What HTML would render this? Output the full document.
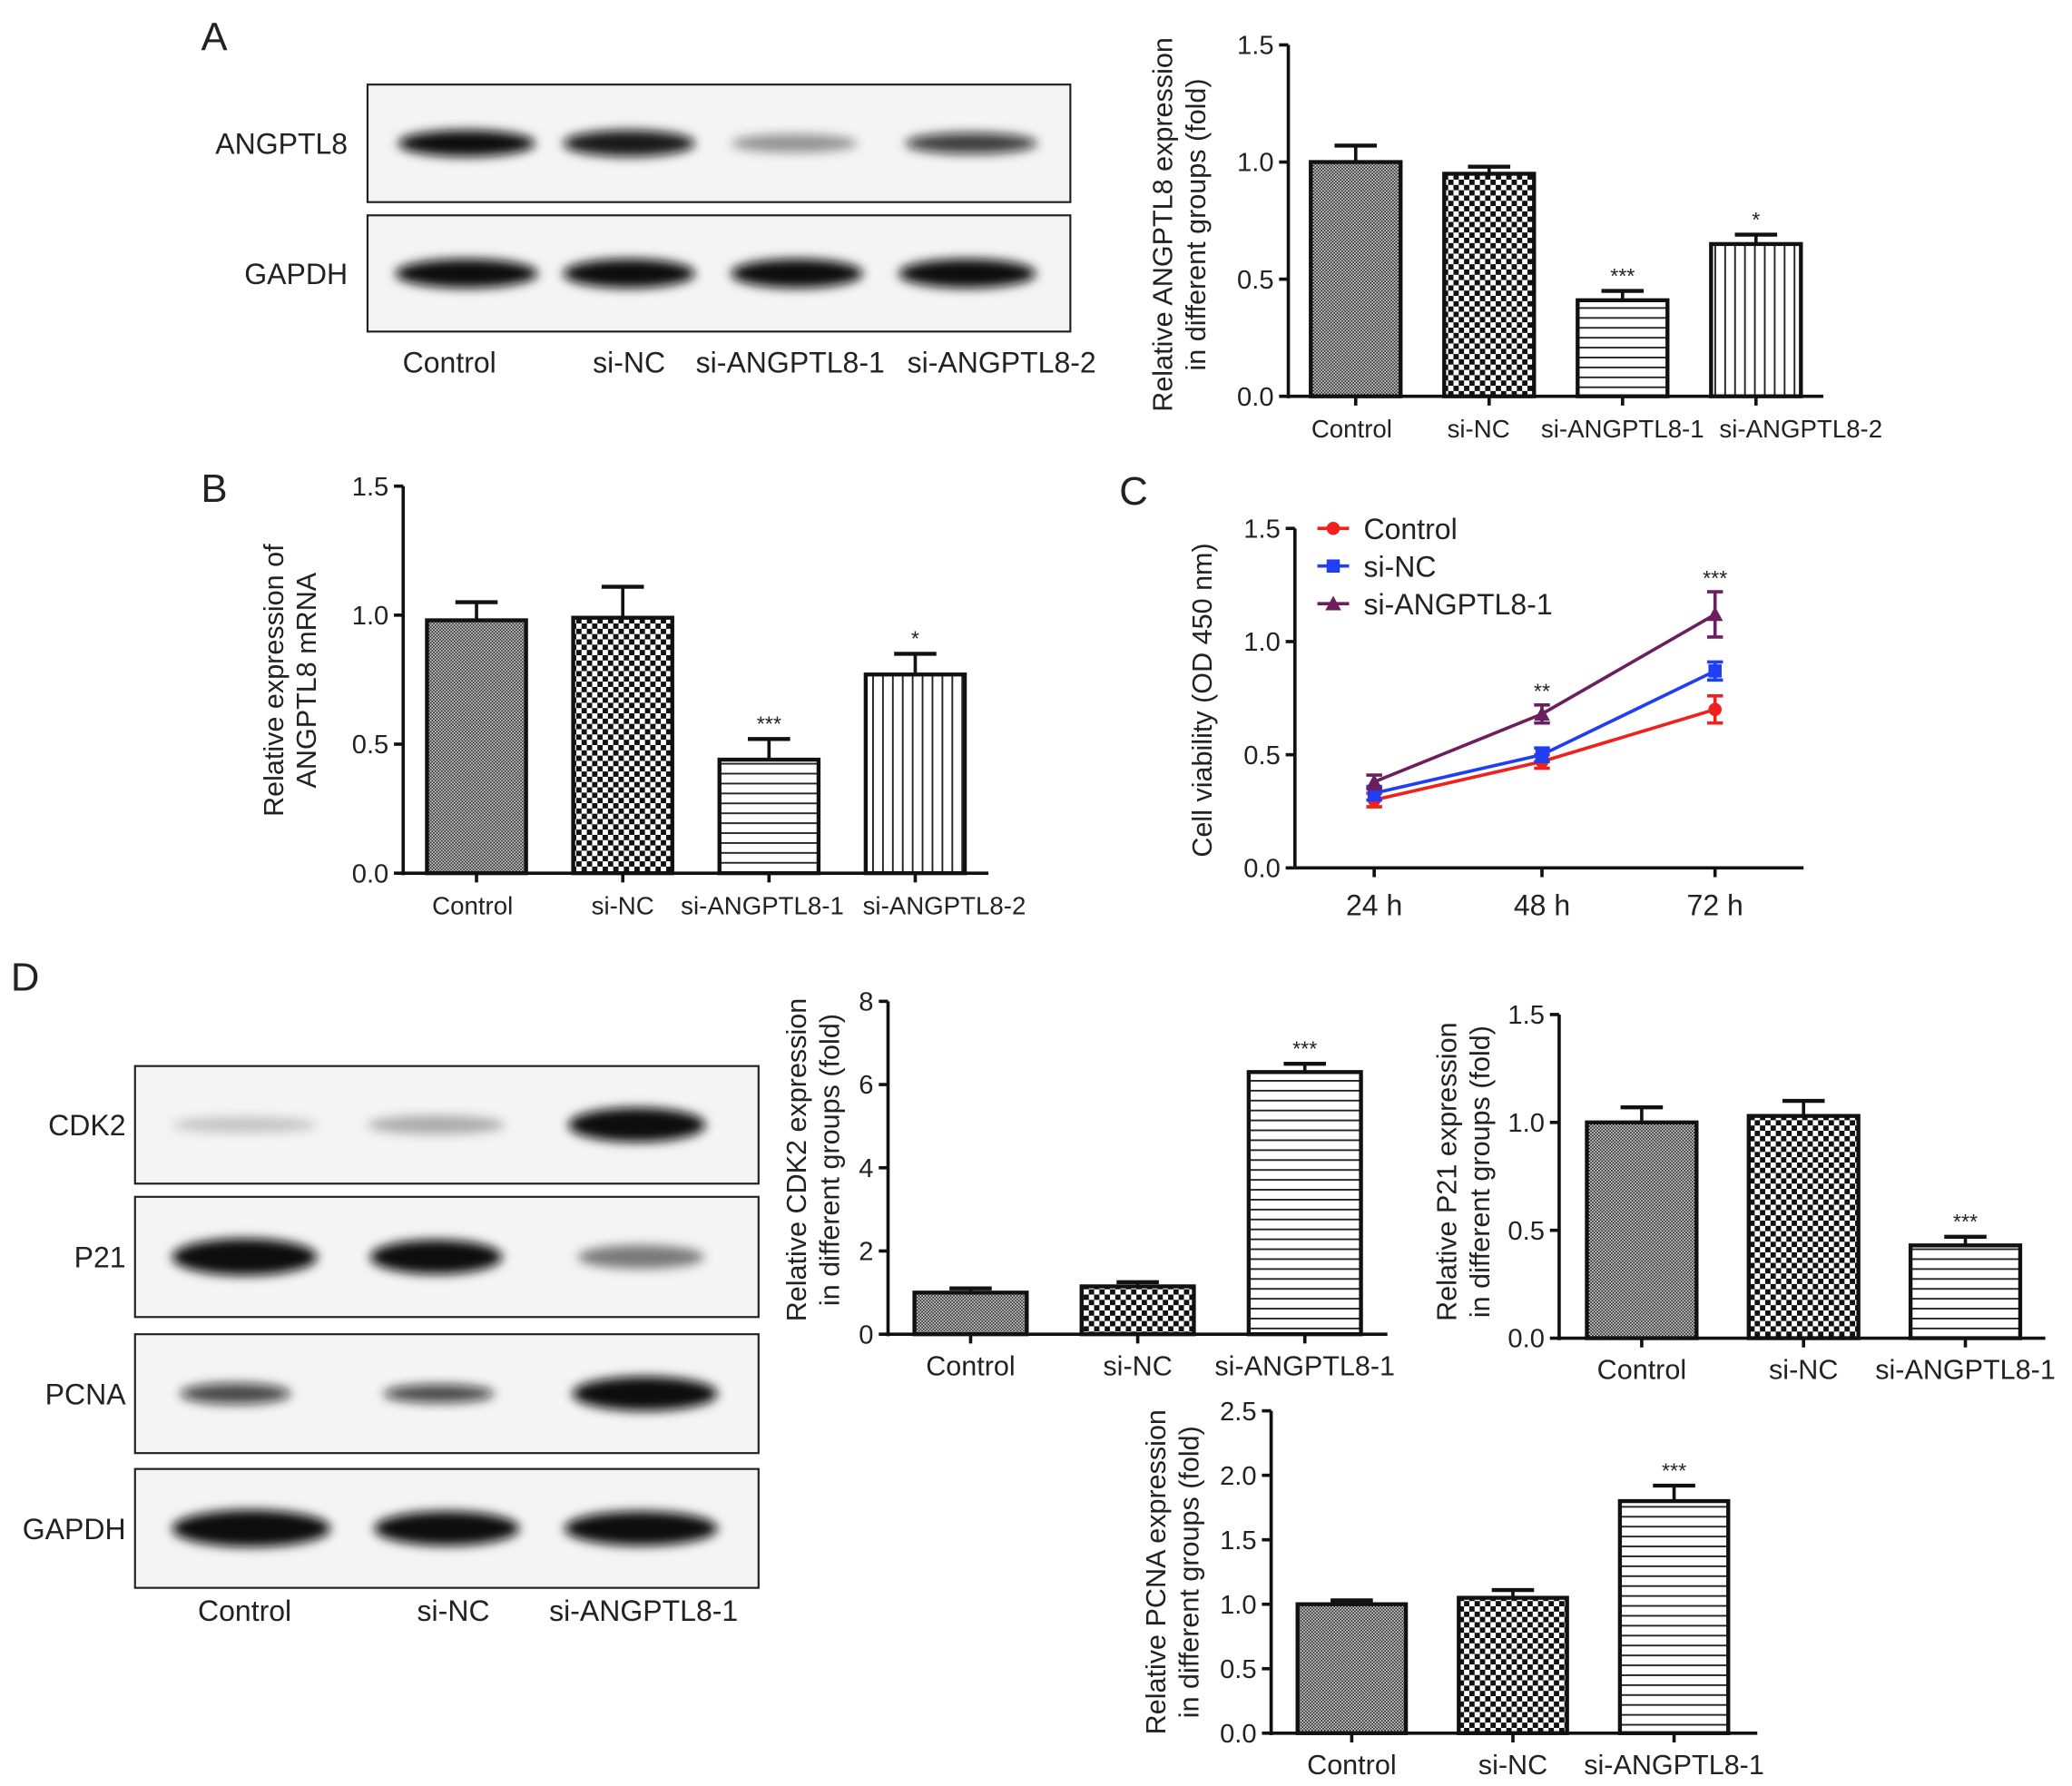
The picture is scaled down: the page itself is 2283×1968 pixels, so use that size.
<!DOCTYPE html>
<html><head><meta charset="utf-8"><style>
html,body{margin:0;padding:0;background:#fff}
svg{display:block}
text{font-family:"Liberation Sans",Arial,sans-serif;fill:#222}
</style></head><body>
<svg id="fig" width="2283" height="1968" viewBox="0 0 1568 1352" xmlns="http://www.w3.org/2000/svg">
<defs>
<pattern id="pCtrl" width="2.4" height="2.4" patternUnits="userSpaceOnUse"><rect width="2.4" height="2.4" fill="#ddd"/><rect width="1.2" height="1.2" fill="#222"/><rect x="1.2" y="1.2" width="1.2" height="1.2" fill="#222"/></pattern>
<pattern id="pNC" width="8" height="8" patternUnits="userSpaceOnUse"><rect width="8" height="8" fill="#fff"/><rect width="4" height="4" fill="#111"/><rect x="4" y="4" width="4" height="4" fill="#111"/></pattern>
<pattern id="pH" width="8" height="7.5" patternUnits="userSpaceOnUse"><rect width="8" height="7.5" fill="#fff"/><rect y="0" width="8" height="1.3" fill="#222"/></pattern>
<pattern id="pV" width="7.5" height="8" patternUnits="userSpaceOnUse"><rect width="7.5" height="8" fill="#fff"/><rect x="0" width="1.3" height="8" fill="#222"/></pattern>
<filter id="blur" x="-20%" y="-50%" width="140%" height="200%"><feGaussianBlur stdDeviation="4"/></filter>
</defs>
<g id="root"></g>
</svg>
<script>
// ---------- data ----------
const groupsA = ["Control","si-NC","si-ANGPTL8-1","si-ANGPTL8-2"];
const valuesA = [1.0,0.95,0.41,0.65];
const errorsA = [0.07,0.03,0.04,0.04];
const starsA = ["","","***","*"];
const valuesB = [0.98,0.99,0.44,0.77];
const errorsB = [0.07,0.12,0.08,0.08];
const starsB = ["","","***","*"];
const ticks15 = [0,0.5,1.0,1.5];
const timesC = ["24 h","48 h","72 h"];
const ctrlC = [0.30,0.47,0.70];
const ctrlErrC = [0.03,0.03,0.06];
const ncC = [0.33,0.50,0.87];
const ncErrC = [0.03,0.03,0.04];
const siC = [0.38,0.68,1.12];
const siErrC = [0.03,0.04,0.10];
const starsC = ["","**","***"];
const groupsD = ["Control","si-NC","si-ANGPTL8-1"];
const valuesCDK2 = [1.0,1.15,6.3];
const errorsCDK2 = [0.1,0.1,0.2];
const ticksCDK2 = [0,2,4,6,8];
const valuesP21 = [1.0,1.03,0.43];
const errorsP21 = [0.07,0.07,0.04];
const valuesPCNA = [1.0,1.05,1.8];
const errorsPCNA = [0.03,0.06,0.12];
const ticksPCNA = [0,0.5,1.0,1.5,2.0,2.5];
const starsD = ["","","***"];
const fillsAll = ["url(#pCtrl)","url(#pNC)","url(#pH)","url(#pV)"];

const NS="http://www.w3.org/2000/svg";
const root=document.getElementById('root');
function mk(tag,attrs,parent,txt){const e=document.createElementNS(NS,tag);for(const k in attrs)e.setAttribute(k,attrs[k]);if(txt!==undefined)e.textContent=txt;(parent||root).appendChild(e);return e;}
function fmt(v,dec){return v.toFixed(dec);}

function barChart(o){
  const g=mk('g',{});
  
  
  const y=v=>o.y0-(v/o.max)*(o.y0-o.yTop);
  mk('line',{x1:o.ax,y1:o.yTop,x2:o.ax,y2:o.y0+1.5,stroke:'#111','stroke-width':2.5},g);
  mk('line',{x1:o.ax,y1:o.y0,x2:o.axEnd,y2:o.y0,stroke:'#111','stroke-width':2.5},g);
  o.ticks.forEach(t=>{
    mk('line',{x1:o.ax-7,y1:y(t),x2:o.ax,y2:y(t),stroke:'#111','stroke-width':2.5},g);
    const tl=mk('text',{x:o.ax-11,y:y(t)+7,'text-anchor':'end','font-size':20},g,fmt(t,o.dec));
    
    
  });
  o.values.forEach((v,i)=>{
    const x0=o.x0+i*o.step, cx=x0+o.bw/2;
    const b=mk('rect',{x:x0,y:y(v),width:o.bw,height:o.y0-y(v),fill:fillsAll[i],stroke:'#111','stroke-width':3},g);
    
    
    const ye=y(v+o.errors[i]);
    mk('line',{x1:cx,y1:y(v),x2:cx,y2:ye,stroke:'#111','stroke-width':2.5},g);
    mk('line',{x1:cx-16,y1:ye,x2:cx+16,y2:ye,stroke:'#111','stroke-width':3},g);
    mk('line',{x1:cx,y1:o.y0,x2:cx,y2:o.y0+7,stroke:'#111','stroke-width':2.5},g);
    if(o.stars[i]){const s=mk('text',{x:cx,y:ye-6,'text-anchor':'middle','font-size':16},g,o.stars[i]);
      }
    const l=mk('text',{x:cx+(o.lblOff?o.lblOff[i]:0),y:o.y0+31,'text-anchor':'middle','font-size':o.lfs||21},g,o.groups[i]);
    
    
  });
  const t=mk('text',{transform:`translate(${o.tx},${o.ty}) rotate(-90)`,'text-anchor':'middle','font-size':21},g);
  
  
  o.title.forEach((s,i)=>mk('tspan',{x:0,dy:i===0?0:25},t,s));
}

function panelLabel(txt,x,y){const e=mk('text',{x:x,y:y,'font-size':30},root,txt);
  }

function blot(name,x,y,w,h,bands,label,lx){
  const g=mk('g',{});
  
  
  mk('rect',{x:x,y:y,width:w,height:h,fill:'#f4f4f4',stroke:'#222','stroke-width':1.5},g);
  bands.forEach(b=>mk('ellipse',{cx:b[0],cy:y+h/2,rx:b[1],ry:b[2],fill:`rgba(10,10,10,${b[3]})`,filter:'url(#blur)'},g));
  const t=mk('text',{x:lx,y:y+h/2+8,'text-anchor':'end','font-size':22},g,label);
  
}

// Panel A
panelLabel('A',152,38);
blot('blot-angptl8',278,64,532,89,[[353,52,10,1],[476,50,10,0.95],[601,48,7,0.4],[735,50,8,0.8]],'ANGPTL8',263);
blot('blot-gapdh-a',278,163,532,88,[[353,54,11,1],[476,50,11,1],[603,50,11,1],[732,52,11,1]],'GAPDH',263);
[340,476,598,758].forEach((x,i)=>{const t=mk('text',{x:x,y:282,'text-anchor':'middle','font-size':22},root,groupsA[i]);
  });
barChart({name:'chart-a',groups:groupsA,values:valuesA,errors:errorsA,stars:starsA,ticks:ticks15,dec:1,max:1.5,
  ax:975,axEnd:1380,y0:300,yTop:34,x0:992,step:101,bw:68,tx:887,ty:170,lfs:19,lblOff:[-3,-8,0,34],
  title:['Relative ANGPTL8 expression','in different groups (fold)']});

// Panel B
panelLabel('B',152,380);
barChart({name:'chart-b',groups:groupsA,values:valuesB,errors:errorsB,stars:starsB,ticks:ticks15,dec:1,max:1.5,
  ax:305,axEnd:748,y0:661,yTop:368,x0:323,step:110.7,bw:75,tx:214,ty:515,lfs:19,lblOff:[-3,0,-5,22],
  title:['Relative expression of','ANGPTL8 mRNA']});

// Panel C
panelLabel('C',847,382);
(function(){
  const g=mk('g',{});
  
  
  const ax=980,y0=657,yTop=400,xs=[1040,1167,1298];
  const y=v=>y0-(v/1.5)*(y0-yTop);
  mk('line',{x1:ax,y1:yTop,x2:ax,y2:y0,stroke:'#111','stroke-width':2.5},g);
  mk('line',{x1:ax,y1:y0,x2:1365,y2:y0,stroke:'#111','stroke-width':2.5},g);
  ticks15.forEach(t=>{mk('line',{x1:ax-7,y1:y(t),x2:ax,y2:y(t),stroke:'#111','stroke-width':2.5},g);
    const tl=mk('text',{x:ax-11,y:y(t)+7,'text-anchor':'end','font-size':20},g,fmt(t,1));
    });
  timesC.forEach((s,i)=>{mk('line',{x1:xs[i],y1:y0,x2:xs[i],y2:y0+7,stroke:'#111','stroke-width':2.5},g);
    const tl=mk('text',{x:xs[i],y:y0+36,'text-anchor':'middle','font-size':22},g,s);
    });
  const series=[[ctrlC,ctrlErrC,'#f0201c','circle','Control'],[ncC,ncErrC,'#1f3ff0','square','si-NC'],[siC,siErrC,'#6b1f5e','tri','si-ANGPTL8-1']];
  function marker(x,yy,c,sh,par){if(sh==='circle')return mk('circle',{cx:x,cy:yy,r:5,fill:c},par);
    if(sh==='square')return mk('rect',{x:x-5,y:yy-5,width:10,height:10,fill:c},par);
    return mk('polygon',{points:`${x},${yy-6} ${x-6},${yy+5} ${x+6},${yy+5}`,fill:c},par);}
  series.forEach((s,k)=>{
    const sg=mk('g',{},g);
    
    
    mk('polyline',{points:s[0].map((v,i)=>xs[i]+','+y(v)).join(' '),fill:'none',stroke:s[2],'stroke-width':2.5},sg);
    s[0].forEach((v,i)=>{
      const a=y(v+s[1][i]),b=y(v-s[1][i]);
      mk('line',{x1:xs[i],y1:a,x2:xs[i],y2:b,stroke:s[2],'stroke-width':2.5},sg);
      mk('line',{x1:xs[i]-6,y1:a,x2:xs[i]+6,y2:a,stroke:s[2],'stroke-width':2.5},sg);
      mk('line',{x1:xs[i]-6,y1:b,x2:xs[i]+6,y2:b,stroke:s[2],'stroke-width':2.5},sg);
      const m=marker(xs[i],y(v),s[2],s[3],sg);
      
    });
    const ly=400+k*28.5;
    const le=mk('g',{},g);
    
    
    mk('line',{x1:997,y1:ly,x2:1021,y2:ly,stroke:s[2],'stroke-width':2.5},le);
    marker(1009,ly,s[2],s[3],le);
    mk('text',{x:1032,y:ly+8,'font-size':22},le,s[4]);
  });
  starsC.forEach((s,i)=>{if(s){const t=mk('text',{x:xs[i],y:y(siC[i]+siErrC[i])-5,'text-anchor':'middle','font-size':16},g,s);
    }});
  const t=mk('text',{transform:`translate(917,530) rotate(-90)`,'text-anchor':'middle','font-size':21},g,'Cell viability (OD 450 nm)');
  
})();

// Panel D
panelLabel('D',8,750);
blot('blot-cdk2',102,807,472,89,[[185,55,6,0.2],[330,52,7,0.3],[482,52,13,1]],'CDK2',95);
blot('blot-p21',102,906,472,91,[[185,55,14,1],[330,50,13,1],[485,48,9,0.5]],'P21',95);
blot('blot-pcna',102,1010,472,90,[[178,42,8,0.75],[332,42,7,0.75],[488,55,13,1]],'PCNA',95);
blot('blot-gapdh-d',102,1112,472,90,[[190,60,14,1],[338,55,13,1],[485,58,13,1]],'GAPDH',95);
[185,343,487].forEach((x,i)=>{const t=mk('text',{x:x,y:1227,'text-anchor':'middle','font-size':22},root,groupsD[i]);
  });

barChart({name:'chart-cdk2',groups:groupsD,values:valuesCDK2,errors:errorsCDK2,stars:starsD,ticks:ticksCDK2,dec:0,max:8,
  ax:672,axEnd:1050,y0:1010,yTop:758,x0:692,step:126.5,bw:85,tx:610,ty:878,
  title:['Relative CDK2 expression','in different groups (fold)']});
barChart({name:'chart-p21',groups:groupsD,values:valuesP21,errors:errorsP21,stars:starsD,ticks:ticks15,dec:1,max:1.5,
  ax:1180,axEnd:1548,y0:1013,yTop:768,x0:1201,step:122.5,bw:83,tx:1102,ty:887,
  title:['Relative P21 expression','in different groups (fold)']});
barChart({name:'chart-pcna',groups:groupsD,values:valuesPCNA,errors:errorsPCNA,stars:starsD,ticks:ticksPCNA,dec:1,max:2.5,
  ax:962,axEnd:1330,y0:1312,yTop:1068,x0:982,step:122,bw:82,tx:882,ty:1190,
  title:['Relative PCNA expression','in different groups (fold)']});
</script>
</body></html>
